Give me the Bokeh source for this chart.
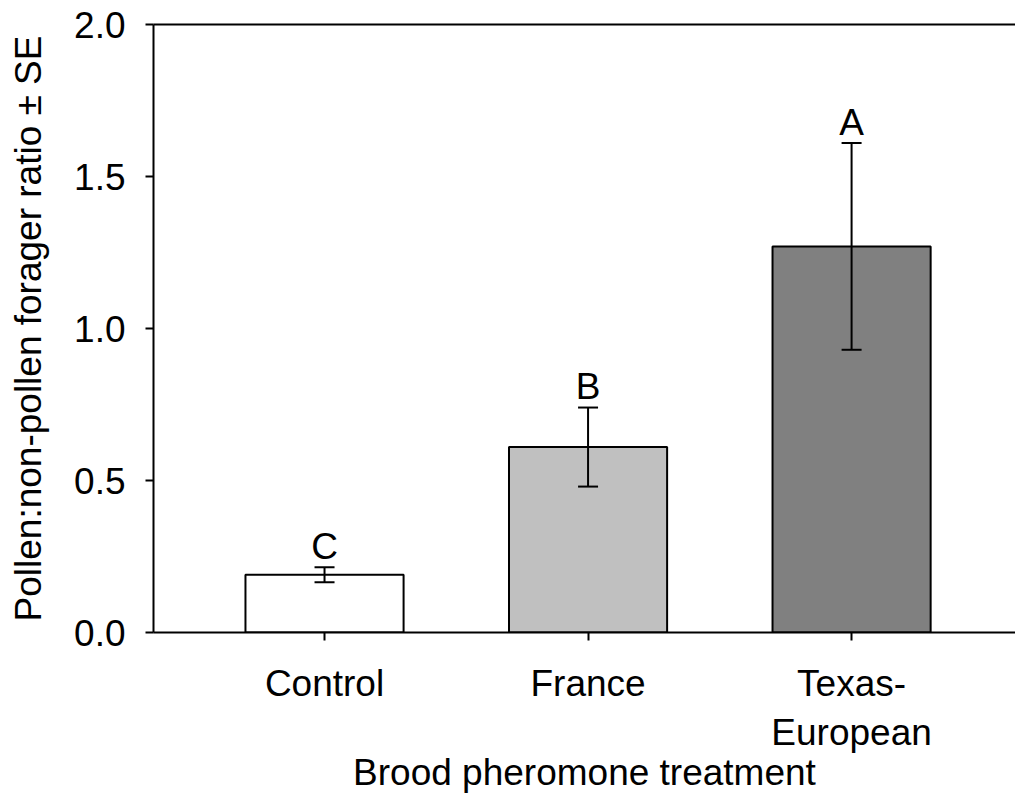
from bokeh.plotting import figure
from bokeh.models import (Range1d, FixedTicker, PrintfTickFormatter, LinearAxis,
                          ColumnDataSource, Whisker, TeeHead)
from bokeh.core.properties import value
from bokeh.embed import file_html
from bokeh.resources import INLINE

# ---- data ----
categories = ["Control", "France", "Texas-\nEuropean"]
means = [0.19, 0.61, 1.27]
se = [0.025, 0.13, 0.34]
letters = ["C", "B", "A"]
bar_colors = ["#ffffff", "#c0c0c0", "#808080"]
y_ticks = [0.0, 0.5, 1.0, 1.5, 2.0]

FONT = "Liberation Sans"
FS = "37px"

xs = list(range(len(categories)))
src = ColumnDataSource(dict(
    x=xs, top=means, color=bar_colors,
    upper=[m + s for m, s in zip(means, se)],
    lower=[m - s for m, s in zip(means, se)],
    letter=letters,
))

p = figure(width=1015, height=796, output_backend="svg", toolbar_location=None,
           x_range=Range1d(-0.649, 2.622), y_range=Range1d(0, 2.0),
           min_border_left=153, min_border_right=0, min_border_top=24,
           min_border_bottom=164)
p.outline_line_color = None
p.grid.visible = False
p.background_fill_color = "white"
p.border_fill_color = "white"

p.vbar(x="x", top="top", width=0.6, bottom=0, source=src, fill_color="color",
       line_color="black", line_width=2)

p.add_layout(Whisker(base="x", upper="upper", lower="lower", source=src,
                     level="overlay",
                     line_color="black", line_width=2,
                     upper_head=TeeHead(size=20, line_width=2, line_color="black"),
                     lower_head=TeeHead(size=20, line_width=2, line_color="black")))

p.text(x="x", y="upper", text="letter", source=src, text_align="center",
       text_baseline="alphabetic", y_offset=-21, text_font=value(FONT),
       text_font_size=FS, text_color="black")

# x axis
xa = p.xaxis[0]
xa.ticker = FixedTicker(ticks=xs)
xa.major_label_overrides = {i: c for i, c in zip(xs, categories)}
xa.axis_label = "Brood pheromone treatment"
# y axis
ya = p.yaxis[0]
ya.ticker = FixedTicker(ticks=y_ticks)
ya.formatter = PrintfTickFormatter(format="%.1f")
ya.axis_label = "Pollen:non-pollen forager ratio \u00b1 SE"

for ax in (xa, ya):
    ax.axis_line_width = 2
    ax.axis_line_color = "black"
    ax.major_tick_line_width = 2
    ax.major_tick_line_color = "black"
    ax.major_tick_out = 8
    ax.major_tick_in = 0
    ax.minor_tick_line_color = None
    ax.major_label_text_font = FONT
    ax.major_label_text_font_size = FS
    ax.major_label_text_color = "black"
    ax.axis_label_text_font = FONT
    ax.axis_label_text_font_size = FS
    ax.axis_label_text_font_style = "normal"
    ax.axis_label_text_color = "black"

xa.major_label_standoff = 22
xa.axis_label_standoff = -4
ya.major_label_standoff = 20
ya.axis_label_standoff = 22

top_axis = LinearAxis(ticker=FixedTicker(ticks=[]), axis_line_width=2,
                      axis_line_color="black", major_tick_line_color=None,
                      minor_tick_line_color=None, major_label_text_font_size="0px",
                      major_label_standoff=0)
p.add_layout(top_axis, "above")

open("out.html", "w").write(file_html(p, INLINE))
